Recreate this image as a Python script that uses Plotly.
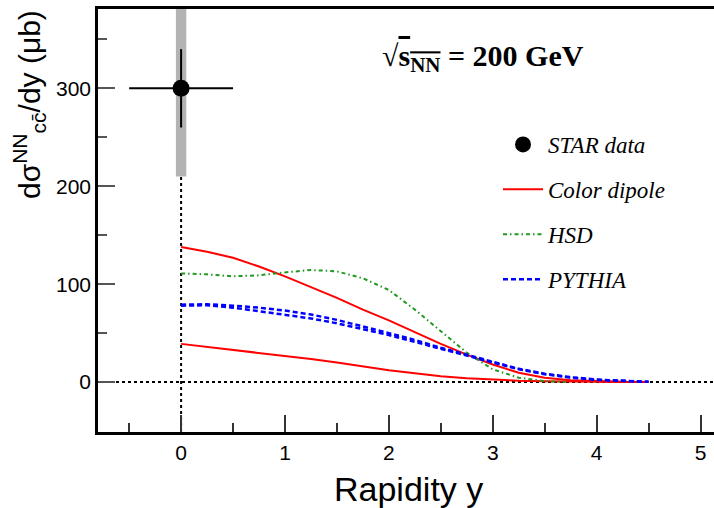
import plotly.graph_objects as go

# ---- data ----
star_x = [0.0]
star_y = [300.0]
star_stat = [40.0]
star_xerr = [0.5]
star_sys_lo = [210.0]
star_sys_hi = [390.0]

rap = [0.0, 0.25, 0.5, 0.75, 1.0, 1.25, 1.5, 1.75, 2.0, 2.25, 2.5, 2.75, 3.0, 3.25, 3.5, 3.75, 4.0, 4.25, 4.5]
dipole_hi = [138, 133, 127, 118, 108, 97, 86, 74, 63, 51, 39, 28, 18, 9.5, 4.5, 1.8, 0.7, 0.2, 0.0]
dipole_lo = [39, 36, 33, 30, 27, 23.5, 20, 16, 12, 9, 6, 4, 2.5, 1.4, 0.8, 0.4, 0.2, 0.1, 0.0]
pythia_hi = [79, 79.5, 78, 76, 73, 69, 63.5, 57, 50, 43, 35, 28, 20.5, 13.5, 8.5, 5, 2.5, 1.2, 0.3]
pythia_lo = [78, 78.5, 76, 72.5, 69, 65, 60, 54, 48, 41, 34, 27, 20, 13, 8, 4.5, 2.2, 1.0, 0.2]

hsd_x = [0.0, 0.25, 0.5, 0.75, 1.0, 1.25, 1.5, 1.75, 2.0, 2.25, 2.5, 2.75, 3.0, 3.25, 3.5, 3.7]
hsd_y = [111, 110, 108, 109, 112, 114.5, 113, 106, 94, 74, 52, 30, 13, 4.5, 1, 0]

x_range = [-0.8, 5.13]
y_range = [-51, 381]

fig = go.Figure()

# systematic band
fig.add_trace(go.Bar(x=star_x, y=[star_sys_hi[0] - star_sys_lo[0]], base=star_sys_lo,
                     width=0.1, marker=dict(color="#b3b3b3", line=dict(width=0)),
                     showlegend=False, hoverinfo="skip"))

# dashed reference lines
fig.add_trace(go.Scatter(x=x_range, y=[0, 0], mode="lines",
                         line=dict(color="black", width=2, dash="3px,3px"),
                         showlegend=False, hoverinfo="skip"))
fig.add_trace(go.Scatter(x=[0, 0], y=[y_range[0], star_sys_lo[0]], mode="lines",
                         line=dict(color="black", width=2, dash="3px,3px"),
                         showlegend=False, hoverinfo="skip"))

fig.add_trace(go.Scatter(x=star_x, y=star_y, mode="markers", name="STAR data",
                         marker=dict(color="black", size=17),
                         error_x=dict(type="data", array=star_xerr, color="black", thickness=2, width=0),
                         error_y=dict(type="data", array=star_stat, color="black", thickness=2, width=0),
                         legendgroup="a"))

fig.add_trace(go.Scatter(x=rap, y=dipole_hi, mode="lines", name="Color dipole",
                         line=dict(color="#ff0000", width=2), legendgroup="b"))
fig.add_trace(go.Scatter(x=rap, y=dipole_lo, mode="lines", name="Color dipole",
                         line=dict(color="#ff0000", width=2), legendgroup="b", showlegend=False))

fig.add_trace(go.Scatter(x=hsd_x, y=hsd_y, mode="lines", name="HSD",
                         line=dict(color="#229922", width=2, dash="4px,3px,1.5px,3px"),
                         legendgroup="c"))

fig.add_trace(go.Scatter(x=rap, y=pythia_hi, mode="lines", name="PYTHIA",
                         line=dict(color="#0000ff", width=2.5, dash="5px,3px"), legendgroup="d"))
fig.add_trace(go.Scatter(x=rap, y=pythia_lo, mode="lines", name="PYTHIA",
                         line=dict(color="#0000ff", width=2.5, dash="5px,3px"), legendgroup="d",
                         showlegend=False))

W, H = 714, 508
ml, mr, mt, mb = 98, 0, 9, 76
pw, ph = W - ml - mr, H - mt - mb

def px_x(p):
    return (p - ml) / pw

def px_y(p):
    return 1 - (p - mt) / ph

fig.update_layout(
    width=W, height=H,
    margin=dict(l=ml, r=mr, t=mt, b=mb),
    paper_bgcolor="white", plot_bgcolor="white",
    font=dict(family="Liberation Sans, Arial, sans-serif", color="black"),
    barmode="overlay",
    showlegend=True,
    legend=dict(x=px_x(498), y=px_y(123), xanchor="left", yanchor="top",
                bgcolor="rgba(0,0,0,0)", borderwidth=0,
                font=dict(family="Liberation Serif, Times New Roman, serif", size=23, style="italic"),
                tracegroupgap=12, traceorder="grouped", itemwidth=40),
)

fig.update_xaxes(range=x_range, showgrid=False, zeroline=False,
                 showline=True, linecolor="black", linewidth=2.5, mirror=True,
                 ticks="inside", ticklen=17, tickwidth=1.5, tickcolor="#333",
                 tick0=0, dtick=1, tickfont=dict(size=21),
                 minor=dict(ticks="inside", ticklen=9, tickwidth=1.5, tickcolor="#333", dtick=0.5))
fig.update_yaxes(range=y_range, showgrid=False, zeroline=False,
                 showline=True, linecolor="black", linewidth=2.5, mirror=False,
                 ticks="inside", ticklen=17, tickwidth=1.5, tickcolor="#555",
                 tick0=0, dtick=100, tickfont=dict(size=21),
                 minor=dict(ticks="inside", ticklen=9, tickwidth=1.5, tickcolor="#555", dtick=50))

fig.add_annotation(text="Rapidity y", xref="paper", yref="paper",
                   x=px_x(408), y=px_y(489), xanchor="center", yanchor="middle",
                   showarrow=False, font=dict(size=34))
fig.add_annotation(text="dσ<sup>NN</sup><sub>cc̄</sub>/dy (μb)", xref="paper", yref="paper",
                   x=px_x(29), y=px_y(105), xanchor="center", yanchor="middle", textangle=-90,
                   showarrow=False, font=dict(size=30))
fig.add_annotation(text="<b>√<span style='text-decoration:overline'>s<sub>NN</sub></span> = 200 GeV</b>",
                   xref="paper", yref="paper",
                   x=px_x(380), y=px_y(58), xanchor="left", yanchor="middle",
                   showarrow=False, font=dict(family="Liberation Serif, Times New Roman, serif", size=30))

fig.write_html("out.html", config={"displayModeBar": False},
               post_script="document.body.style.margin='0';document.body.style.padding='0';")
